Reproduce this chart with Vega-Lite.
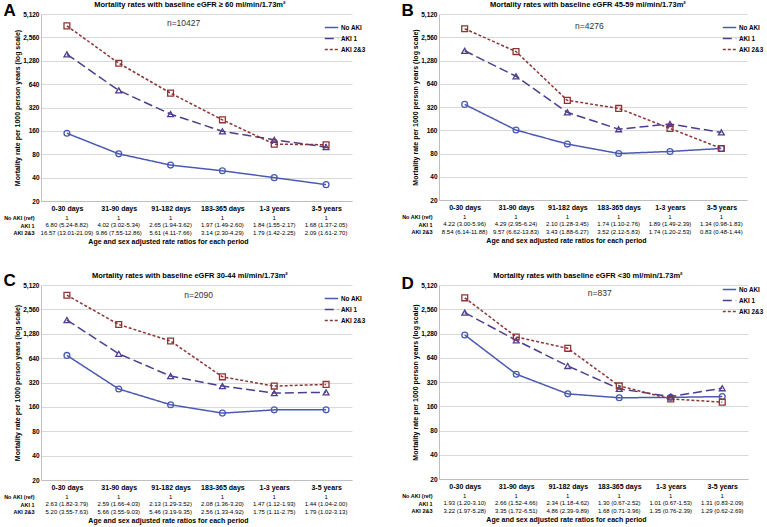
{
"$schema": "https://vega.github.io/schema/vega-lite/v6.json",
"padding": {"left": 3, "top": 0, "right": 2, "bottom": 1},
"config": {
  "font": "Liberation Sans",
  "view": {"stroke": null},
  "title": {"fontSize": 7.5, "fontWeight": "bold", "color": "#000", "offset": 3},
  "axis": {"labelFontWeight": "bold", "labelColor": "#000", "titleFontWeight": "bold", "titleColor": "#000", "ticks": false, "domainColor": "#bfbfbf", "gridColor": "#d9d9d9", "labelFontSize": 6.5, "titleFontSize": 7},
  "legend": {"orient": "none", "legendX": 283, "legendY": 6, "symbolType": "stroke", "symbolSize": 180, "symbolStrokeWidth": 1.5, "labelFontSize": 6.3, "labelFontWeight": "bold", "labelColor": "#000", "rowPadding": 0, "labelOffset": 2}
},
"datasets": {
  "rates": [
    {"p":"A","group":"No AKI","period":"0-30 days","rate":149},
    {"p":"A","group":"No AKI","period":"31-90 days","rate":81},
    {"p":"A","group":"No AKI","period":"91-182 days","rate":58},
    {"p":"A","group":"No AKI","period":"183-365 days","rate":49},
    {"p":"A","group":"No AKI","period":"1-3 years","rate":40},
    {"p":"A","group":"No AKI","period":"3-5 years","rate":32.5},
    {"p":"A","group":"AKI 1","period":"0-30 days","rate":1550},
    {"p":"A","group":"AKI 1","period":"31-90 days","rate":531},
    {"p":"A","group":"AKI 1","period":"91-182 days","rate":263},
    {"p":"A","group":"AKI 1","period":"183-365 days","rate":158},
    {"p":"A","group":"AKI 1","period":"1-3 years","rate":123},
    {"p":"A","group":"AKI 1","period":"3-5 years","rate":99},
    {"p":"A","group":"AKI 2&3","period":"0-30 days","rate":3600},
    {"p":"A","group":"AKI 2&3","period":"31-90 days","rate":1190},
    {"p":"A","group":"AKI 2&3","period":"91-182 days","rate":490},
    {"p":"A","group":"AKI 2&3","period":"183-365 days","rate":222},
    {"p":"A","group":"AKI 2&3","period":"1-3 years","rate":108},
    {"p":"A","group":"AKI 2&3","period":"3-5 years","rate":106},
    {"p":"B","group":"No AKI","period":"0-30 days","rate":346},
    {"p":"B","group":"No AKI","period":"31-90 days","rate":161},
    {"p":"B","group":"No AKI","period":"91-182 days","rate":106},
    {"p":"B","group":"No AKI","period":"183-365 days","rate":80},
    {"p":"B","group":"No AKI","period":"1-3 years","rate":85},
    {"p":"B","group":"No AKI","period":"3-5 years","rate":93},
    {"p":"B","group":"AKI 1","period":"0-30 days","rate":1710},
    {"p":"B","group":"AKI 1","period":"31-90 days","rate":800},
    {"p":"B","group":"AKI 1","period":"91-182 days","rate":273},
    {"p":"B","group":"AKI 1","period":"183-365 days","rate":165},
    {"p":"B","group":"AKI 1","period":"1-3 years","rate":193},
    {"p":"B","group":"AKI 1","period":"3-5 years","rate":150},
    {"p":"B","group":"AKI 2&3","period":"0-30 days","rate":3300},
    {"p":"B","group":"AKI 2&3","period":"31-90 days","rate":1670},
    {"p":"B","group":"AKI 2&3","period":"91-182 days","rate":390},
    {"p":"B","group":"AKI 2&3","period":"183-365 days","rate":307},
    {"p":"B","group":"AKI 2&3","period":"1-3 years","rate":169},
    {"p":"B","group":"AKI 2&3","period":"3-5 years","rate":93},
    {"p":"C","group":"No AKI","period":"0-30 days","rate":691},
    {"p":"C","group":"No AKI","period":"31-90 days","rate":266},
    {"p":"C","group":"No AKI","period":"91-182 days","rate":170},
    {"p":"C","group":"No AKI","period":"183-365 days","rate":134},
    {"p":"C","group":"No AKI","period":"1-3 years","rate":147},
    {"p":"C","group":"No AKI","period":"3-5 years","rate":147},
    {"p":"C","group":"AKI 1","period":"0-30 days","rate":1890},
    {"p":"C","group":"AKI 1","period":"31-90 days","rate":724},
    {"p":"C","group":"AKI 1","period":"91-182 days","rate":384},
    {"p":"C","group":"AKI 1","period":"183-365 days","rate":289},
    {"p":"C","group":"AKI 1","period":"1-3 years","rate":237},
    {"p":"C","group":"AKI 1","period":"3-5 years","rate":242},
    {"p":"C","group":"AKI 2&3","period":"0-30 days","rate":3830},
    {"p":"C","group":"AKI 2&3","period":"31-90 days","rate":1666},
    {"p":"C","group":"AKI 2&3","period":"91-182 days","rate":1040},
    {"p":"C","group":"AKI 2&3","period":"183-365 days","rate":376},
    {"p":"C","group":"AKI 2&3","period":"1-3 years","rate":289},
    {"p":"C","group":"AKI 2&3","period":"3-5 years","rate":303},
    {"p":"D","group":"No AKI","period":"0-30 days","rate":1227},
    {"p":"D","group":"No AKI","period":"31-90 days","rate":400},
    {"p":"D","group":"No AKI","period":"91-182 days","rate":228},
    {"p":"D","group":"No AKI","period":"183-365 days","rate":204},
    {"p":"D","group":"No AKI","period":"1-3 years","rate":206},
    {"p":"D","group":"No AKI","period":"3-5 years","rate":211},
    {"p":"D","group":"AKI 1","period":"0-30 days","rate":2320},
    {"p":"D","group":"AKI 1","period":"31-90 days","rate":1054},
    {"p":"D","group":"AKI 1","period":"91-182 days","rate":506},
    {"p":"D","group":"AKI 1","period":"183-365 days","rate":263},
    {"p":"D","group":"AKI 1","period":"1-3 years","rate":211},
    {"p":"D","group":"AKI 1","period":"3-5 years","rate":268},
    {"p":"D","group":"AKI 2&3","period":"0-30 days","rate":3550},
    {"p":"D","group":"AKI 2&3","period":"31-90 days","rate":1160},
    {"p":"D","group":"AKI 2&3","period":"91-182 days","rate":838},
    {"p":"D","group":"AKI 2&3","period":"183-365 days","rate":286},
    {"p":"D","group":"AKI 2&3","period":"1-3 years","rate":197},
    {"p":"D","group":"AKI 2&3","period":"3-5 years","rate":180}
  ],
  "ratios": [
    {"p":"A","row":"No AKI (ref)","period":"0-30 days","v":"1"},
    {"p":"A","row":"No AKI (ref)","period":"31-90 days","v":"1"},
    {"p":"A","row":"No AKI (ref)","period":"91-182 days","v":"1"},
    {"p":"A","row":"No AKI (ref)","period":"183-365 days","v":"1"},
    {"p":"A","row":"No AKI (ref)","period":"1-3 years","v":"1"},
    {"p":"A","row":"No AKI (ref)","period":"3-5 years","v":"1"},
    {"p":"A","row":"AKI 1","period":"0-30 days","v":"6.80 (5.24-8.82)"},
    {"p":"A","row":"AKI 1","period":"31-90 days","v":"4.02 (3.02-5.34)"},
    {"p":"A","row":"AKI 1","period":"91-182 days","v":"2.65 (1.94-3.62)"},
    {"p":"A","row":"AKI 1","period":"183-365 days","v":"1.97 (1.49-2.60)"},
    {"p":"A","row":"AKI 1","period":"1-3 years","v":"1.84 (1.55-2.17)"},
    {"p":"A","row":"AKI 1","period":"3-5 years","v":"1.68 (1.37-2.05)"},
    {"p":"A","row":"AKI 2&3","period":"0-30 days","v":"16.57 (13.01-21.09)"},
    {"p":"A","row":"AKI 2&3","period":"31-90 days","v":"9.86 (7.55-12.86)"},
    {"p":"A","row":"AKI 2&3","period":"91-182 days","v":"5.61 (4.11-7.66)"},
    {"p":"A","row":"AKI 2&3","period":"183-365 days","v":"3.14 (2.30-4.29)"},
    {"p":"A","row":"AKI 2&3","period":"1-3 years","v":"1.79 (1.42-2.25)"},
    {"p":"A","row":"AKI 2&3","period":"3-5 years","v":"2.09 (1.61-2.70)"},
    {"p":"B","row":"No AKI (ref)","period":"0-30 days","v":"1"},
    {"p":"B","row":"No AKI (ref)","period":"31-90 days","v":"1"},
    {"p":"B","row":"No AKI (ref)","period":"91-182 days","v":"1"},
    {"p":"B","row":"No AKI (ref)","period":"183-365 days","v":"1"},
    {"p":"B","row":"No AKI (ref)","period":"1-3 years","v":"1"},
    {"p":"B","row":"No AKI (ref)","period":"3-5 years","v":"1"},
    {"p":"B","row":"AKI 1","period":"0-30 days","v":"4.22 (3.00-5.96)"},
    {"p":"B","row":"AKI 1","period":"31-90 days","v":"4.29 (2.95-6.24)"},
    {"p":"B","row":"AKI 1","period":"91-182 days","v":"2.10 (1.28-3.45)"},
    {"p":"B","row":"AKI 1","period":"183-365 days","v":"1.74 (1.10-2.76)"},
    {"p":"B","row":"AKI 1","period":"1-3 years","v":"1.89 (1.49-2.39)"},
    {"p":"B","row":"AKI 1","period":"3-5 years","v":"1.34 (0.98-1.83)"},
    {"p":"B","row":"AKI 2&3","period":"0-30 days","v":"8.54 (6.14-11.88)"},
    {"p":"B","row":"AKI 2&3","period":"31-90 days","v":"9.57 (6.62-13.83)"},
    {"p":"B","row":"AKI 2&3","period":"91-182 days","v":"3.43 (1.88-6.27)"},
    {"p":"B","row":"AKI 2&3","period":"183-365 days","v":"3.52 (2.12-5.83)"},
    {"p":"B","row":"AKI 2&3","period":"1-3 years","v":"1.74 (1.20-2.53)"},
    {"p":"B","row":"AKI 2&3","period":"3-5 years","v":"0.83 (0.48-1.44)"},
    {"p":"C","row":"No AKI (ref)","period":"0-30 days","v":"1"},
    {"p":"C","row":"No AKI (ref)","period":"31-90 days","v":"1"},
    {"p":"C","row":"No AKI (ref)","period":"91-182 days","v":"1"},
    {"p":"C","row":"No AKI (ref)","period":"183-365 days","v":"1"},
    {"p":"C","row":"No AKI (ref)","period":"1-3 years","v":"1"},
    {"p":"C","row":"No AKI (ref)","period":"3-5 years","v":"1"},
    {"p":"C","row":"AKI 1","period":"0-30 days","v":"2.63 (1.82-3.79)"},
    {"p":"C","row":"AKI 1","period":"31-90 days","v":"2.59 (1.66-4.03)"},
    {"p":"C","row":"AKI 1","period":"91-182 days","v":"2.13 (1.29-3.52)"},
    {"p":"C","row":"AKI 1","period":"183-365 days","v":"2.08 (1.36-3.20)"},
    {"p":"C","row":"AKI 1","period":"1-3 years","v":"1.47 (1.12-1.93)"},
    {"p":"C","row":"AKI 1","period":"3-5 years","v":"1.44 (1.04-2.00)"},
    {"p":"C","row":"AKI 2&3","period":"0-30 days","v":"5.20 (3.55-7.63)"},
    {"p":"C","row":"AKI 2&3","period":"31-90 days","v":"5.66 (3.55-9.03)"},
    {"p":"C","row":"AKI 2&3","period":"91-182 days","v":"5.46 (3.19-9.35)"},
    {"p":"C","row":"AKI 2&3","period":"183-365 days","v":"2.56 (1.33-4.92)"},
    {"p":"C","row":"AKI 2&3","period":"1-3 years","v":"1.75 (1.11-2.75)"},
    {"p":"C","row":"AKI 2&3","period":"3-5 years","v":"1.79 (1.02-3.13)"},
    {"p":"D","row":"No AKI (ref)","period":"0-30 days","v":"1"},
    {"p":"D","row":"No AKI (ref)","period":"31-90 days","v":"1"},
    {"p":"D","row":"No AKI (ref)","period":"91-182 days","v":"1"},
    {"p":"D","row":"No AKI (ref)","period":"183-365 days","v":"1"},
    {"p":"D","row":"No AKI (ref)","period":"1-3 years","v":"1"},
    {"p":"D","row":"No AKI (ref)","period":"3-5 years","v":"1"},
    {"p":"D","row":"AKI 1","period":"0-30 days","v":"1.93 (1.20-3.10)"},
    {"p":"D","row":"AKI 1","period":"31-90 days","v":"2.66 (1.52-4.66)"},
    {"p":"D","row":"AKI 1","period":"91-182 days","v":"2.34 (1.18-4.62)"},
    {"p":"D","row":"AKI 1","period":"183-365 days","v":"1.30 (0.67-2.52)"},
    {"p":"D","row":"AKI 1","period":"1-3 years","v":"1.01 (0.67-1.53)"},
    {"p":"D","row":"AKI 1","period":"3-5 years","v":"1.31 (0.83-2.09)"},
    {"p":"D","row":"AKI 2&3","period":"0-30 days","v":"3.22 (1.97-5.28)"},
    {"p":"D","row":"AKI 2&3","period":"31-90 days","v":"3.35 (1.72-6.51)"},
    {"p":"D","row":"AKI 2&3","period":"91-182 days","v":"4.86 (2.39-9.89)"},
    {"p":"D","row":"AKI 2&3","period":"183-365 days","v":"1.68 (0.71-3.96)"},
    {"p":"D","row":"AKI 2&3","period":"1-3 years","v":"1.35 (0.76-2.39)"},
    {"p":"D","row":"AKI 2&3","period":"3-5 years","v":"1.29 (0.62-2.69)"}
  ],
  "ann": [
    {"p":"A","label":"n=10427"},
    {"p":"B","label":"n=4276"},
    {"p":"C","label":"n=2090"},
    {"p":"D","label":"n=837"}
  ]
},
"resolve": {"legend": {"color": "independent", "strokeDash": "independent"}},
"spacing": 26,
"vconcat": [
 {"resolve": {"legend": {"color": "independent", "strokeDash": "independent"}},
  "spacing": 35,
  "hconcat": [
  {"title": {"text": "A", "anchor": "start", "fontSize": 17, "fontWeight": "bold", "frame": "bounds", "offset": -19},
   "spacing": 3,
   "resolve": {"legend": {"color": "independent", "strokeDash": "independent"}},
   "vconcat": [
    {"title": {"text": "Mortality rates with baseline eGFR ≥ 60 ml/min/1.73m²", "frame": "bounds"},
     "width": 311, "height": 187,
     "layer": [
      {"data": {"name": "rates"}, "transform": [{"filter": "datum.p === 'A'"}],
       "mark": {"type": "line", "strokeWidth": 1.5},
       "encoding": {
        "x": {"field": "period", "type": "nominal", "sort": ["0-30 days","31-90 days","91-182 days","183-365 days","1-3 years","3-5 years"], "scale": {"type": "point", "padding": 0.5}, "axis": {"title": null, "labelAngle": 0, "labelFontSize": 7, "labelPadding": 3, "grid": false}},
        "y": {"field": "rate", "type": "quantitative", "scale": {"type": "log", "domain": [20, 5120], "nice": false}, "axis": {"title": "Mortality rate per 1000 person years (log scale)", "values": [20,40,80,160,320,640,1280,2560,5120], "format": ",", "labelPadding": 2, "titlePadding": 2}},
        "color": {"field": "group", "type": "nominal", "title": null, "scale": {"domain": ["No AKI","AKI 1","AKI 2&3"], "range": ["#4a5ab0","#4e3d8f","#8c3535"]}},
        "strokeDash": {"field": "group", "type": "nominal", "title": null, "scale": {"domain": ["No AKI","AKI 1","AKI 2&3"], "range": [[1,0],[9,4],[3,2]]}}
       }},
      {"data": {"name": "rates"}, "transform": [{"filter": "datum.p === 'A'"}],
       "mark": {"type": "point", "filled": false, "size": 34, "strokeWidth": 1.3, "opacity": 1},
       "encoding": {
        "x": {"field": "period", "type": "nominal", "sort": ["0-30 days","31-90 days","91-182 days","183-365 days","1-3 years","3-5 years"]},
        "y": {"field": "rate", "type": "quantitative"},
        "stroke": {"field": "group", "type": "nominal", "legend": null, "scale": {"range": ["#4e3d8f","#8c3535","#4a5ab0"]}},
        "shape": {"field": "group", "type": "nominal", "legend": null, "scale": {"range": ["triangle-up","square","circle"]}}
       }},
      {"data": {"name": "ann"}, "transform": [{"filter": "datum.p === 'A'"}],
       "mark": {"type": "text", "fontSize": 8.5, "color": "#333", "dx": 13},
       "encoding": {"x": {"datum": "91-182 days"}, "y": {"datum": 3900}, "text": {"field": "label"}}}
     ]},
    {"data": {"name": "ratios"}, "transform": [{"filter": "datum.p === 'A'"}],
     "width": 311, "height": 22.5,
     "mark": {"type": "text", "fontSize": 6, "color": "#000"},
     "encoding": {
      "x": {"field": "period", "type": "nominal", "sort": ["0-30 days","31-90 days","91-182 days","183-365 days","1-3 years","3-5 years"], "scale": {"type": "point", "padding": 0.5}, "axis": {"labels": false, "domain": false, "grid": false, "title": "Age and sex adjusted rate ratios for each period", "titlePadding": 1, "titleFontSize": 7, "titleX": 127}},
      "y": {"field": "row", "type": "nominal", "sort": ["No AKI (ref)","AKI 1","AKI 2&3"], "scale": {"type": "point", "padding": 0.5}, "axis": {"title": null, "domain": false, "grid": false, "labelPadding": 7, "labelFontSize": 5.5}},
      "text": {"field": "v"}
     }}
   ]},
  {"title": {"text": "B", "anchor": "start", "fontSize": 17, "fontWeight": "bold", "frame": "bounds", "offset": -19},
   "spacing": 3,
   "resolve": {"legend": {"color": "independent", "strokeDash": "independent"}},
   "vconcat": [
    {"title": {"text": "Mortality rates with baseline eGFR 45-59 ml/min/1.73m²", "frame": "bounds"},
     "width": 308, "height": 186,
     "layer": [
      {"data": {"name": "rates"}, "transform": [{"filter": "datum.p === 'B'"}],
       "mark": {"type": "line", "strokeWidth": 1.5},
       "encoding": {
        "x": {"field": "period", "type": "nominal", "sort": ["0-30 days","31-90 days","91-182 days","183-365 days","1-3 years","3-5 years"], "scale": {"type": "point", "padding": 0.5}, "axis": {"title": null, "labelAngle": 0, "labelFontSize": 7, "labelPadding": 3, "grid": false}},
        "y": {"field": "rate", "type": "quantitative", "scale": {"type": "log", "domain": [20, 5120], "nice": false}, "axis": {"title": "Mortality rate per 1000 person years (log scale)", "values": [20,40,80,160,320,640,1280,2560,5120], "format": ",", "labelPadding": 2, "titlePadding": 2}},
        "color": {"field": "group", "type": "nominal", "title": null, "scale": {"domain": ["No AKI","AKI 1","AKI 2&3"], "range": ["#4a5ab0","#4e3d8f","#8c3535"]}},
        "strokeDash": {"field": "group", "type": "nominal", "title": null, "scale": {"domain": ["No AKI","AKI 1","AKI 2&3"], "range": [[1,0],[9,4],[3,2]]}}
       }},
      {"data": {"name": "rates"}, "transform": [{"filter": "datum.p === 'B'"}],
       "mark": {"type": "point", "filled": false, "size": 34, "strokeWidth": 1.3, "opacity": 1},
       "encoding": {
        "x": {"field": "period", "type": "nominal", "sort": ["0-30 days","31-90 days","91-182 days","183-365 days","1-3 years","3-5 years"]},
        "y": {"field": "rate", "type": "quantitative"},
        "stroke": {"field": "group", "type": "nominal", "legend": null, "scale": {"range": ["#4e3d8f","#8c3535","#4a5ab0"]}},
        "shape": {"field": "group", "type": "nominal", "legend": null, "scale": {"range": ["triangle-up","square","circle"]}}
       }},
      {"data": {"name": "ann"}, "transform": [{"filter": "datum.p === 'B'"}],
       "mark": {"type": "text", "fontSize": 8.5, "color": "#333", "dx": 22},
       "encoding": {"x": {"datum": "91-182 days"}, "y": {"datum": 3620}, "text": {"field": "label"}}}
     ]},
    {"data": {"name": "ratios"}, "transform": [{"filter": "datum.p === 'B'"}],
     "width": 308, "height": 22.5,
     "mark": {"type": "text", "fontSize": 6, "color": "#000"},
     "encoding": {
      "x": {"field": "period", "type": "nominal", "sort": ["0-30 days","31-90 days","91-182 days","183-365 days","1-3 years","3-5 years"], "scale": {"type": "point", "padding": 0.5}, "axis": {"labels": false, "domain": false, "grid": false, "title": "Age and sex adjusted rate ratios for each period", "titlePadding": 1, "titleFontSize": 7, "titleX": 127}},
      "y": {"field": "row", "type": "nominal", "sort": ["No AKI (ref)","AKI 1","AKI 2&3"], "scale": {"type": "point", "padding": 0.5}, "axis": {"title": null, "domain": false, "grid": false, "labelPadding": 7, "labelFontSize": 5.5}},
      "text": {"field": "v"}
     }}
   ]}
 ]},
 {"resolve": {"legend": {"color": "independent", "strokeDash": "independent"}},
  "spacing": 35,
  "hconcat": [
  {"title": {"text": "C", "anchor": "start", "fontSize": 17, "fontWeight": "bold", "frame": "bounds", "offset": -18},
   "spacing": 3,
   "resolve": {"legend": {"color": "independent", "strokeDash": "independent"}},
   "vconcat": [
    {"title": {"text": "Mortality rates with baseline eGFR 30-44 ml/min/1.73m²", "frame": "bounds"},
     "width": 311, "height": 195,
     "layer": [
      {"data": {"name": "rates"}, "transform": [{"filter": "datum.p === 'C'"}],
       "mark": {"type": "line", "strokeWidth": 1.5},
       "encoding": {
        "x": {"field": "period", "type": "nominal", "sort": ["0-30 days","31-90 days","91-182 days","183-365 days","1-3 years","3-5 years"], "scale": {"type": "point", "padding": 0.5}, "axis": {"title": null, "labelAngle": 0, "labelFontSize": 7, "labelPadding": 3, "grid": false}},
        "y": {"field": "rate", "type": "quantitative", "scale": {"type": "log", "domain": [20, 5120], "nice": false}, "axis": {"title": "Mortality rate per 1000 person years (log scale)", "values": [20,40,80,160,320,640,1280,2560,5120], "format": ",", "labelPadding": 2, "titlePadding": 2}},
        "color": {"field": "group", "type": "nominal", "title": null, "scale": {"domain": ["No AKI","AKI 1","AKI 2&3"], "range": ["#4a5ab0","#4e3d8f","#8c3535"]}},
        "strokeDash": {"field": "group", "type": "nominal", "title": null, "scale": {"domain": ["No AKI","AKI 1","AKI 2&3"], "range": [[1,0],[9,4],[3,2]]}}
       }},
      {"data": {"name": "rates"}, "transform": [{"filter": "datum.p === 'C'"}],
       "mark": {"type": "point", "filled": false, "size": 34, "strokeWidth": 1.3, "opacity": 1},
       "encoding": {
        "x": {"field": "period", "type": "nominal", "sort": ["0-30 days","31-90 days","91-182 days","183-365 days","1-3 years","3-5 years"]},
        "y": {"field": "rate", "type": "quantitative"},
        "stroke": {"field": "group", "type": "nominal", "legend": null, "scale": {"range": ["#4e3d8f","#8c3535","#4a5ab0"]}},
        "shape": {"field": "group", "type": "nominal", "legend": null, "scale": {"range": ["triangle-up","square","circle"]}}
       }},
      {"data": {"name": "ann"}, "transform": [{"filter": "datum.p === 'C'"}],
       "mark": {"type": "text", "fontSize": 8.5, "color": "#333", "dx": 28},
       "encoding": {"x": {"datum": "91-182 days"}, "y": {"datum": 3900}, "text": {"field": "label"}}}
     ]},
    {"data": {"name": "ratios"}, "transform": [{"filter": "datum.p === 'C'"}],
     "width": 311, "height": 22.5,
     "mark": {"type": "text", "fontSize": 6, "color": "#000"},
     "encoding": {
      "x": {"field": "period", "type": "nominal", "sort": ["0-30 days","31-90 days","91-182 days","183-365 days","1-3 years","3-5 years"], "scale": {"type": "point", "padding": 0.5}, "axis": {"labels": false, "domain": false, "grid": false, "title": "Age and sex adjusted rate ratios for each period", "titlePadding": 1, "titleFontSize": 7, "titleX": 127}},
      "y": {"field": "row", "type": "nominal", "sort": ["No AKI (ref)","AKI 1","AKI 2&3"], "scale": {"type": "point", "padding": 0.5}, "axis": {"title": null, "domain": false, "grid": false, "labelPadding": 7, "labelFontSize": 5.5}},
      "text": {"field": "v"}
     }}
   ]},
  {"title": {"text": "D", "anchor": "start", "fontSize": 17, "fontWeight": "bold", "frame": "bounds", "offset": -21},
   "spacing": 3,
   "resolve": {"legend": {"color": "independent", "strokeDash": "independent"}},
   "vconcat": [
    {"title": {"text": "Mortality rates with baseline eGFR <30 ml/min/1.73m²", "frame": "bounds"},
     "width": 309, "height": 194,
     "layer": [
      {"data": {"name": "rates"}, "transform": [{"filter": "datum.p === 'D'"}],
       "mark": {"type": "line", "strokeWidth": 1.5},
       "encoding": {
        "x": {"field": "period", "type": "nominal", "sort": ["0-30 days","31-90 days","91-182 days","183-365 days","1-3 years","3-5 years"], "scale": {"type": "point", "padding": 0.5}, "axis": {"title": null, "labelAngle": 0, "labelFontSize": 7, "labelPadding": 3, "grid": false}},
        "y": {"field": "rate", "type": "quantitative", "scale": {"type": "log", "domain": [20, 5120], "nice": false}, "axis": {"title": "Mortality rate per 1000 person years (log scale)", "values": [20,40,80,160,320,640,1280,2560,5120], "format": ",", "labelPadding": 2, "titlePadding": 2}},
        "color": {"field": "group", "type": "nominal", "title": null, "legend": {"legendY": -3}, "scale": {"domain": ["No AKI","AKI 1","AKI 2&3"], "range": ["#4a5ab0","#4e3d8f","#8c3535"]}},
        "strokeDash": {"field": "group", "type": "nominal", "title": null, "legend": {"legendY": -3}, "scale": {"domain": ["No AKI","AKI 1","AKI 2&3"], "range": [[1,0],[9,4],[3,2]]}}
       }},
      {"data": {"name": "rates"}, "transform": [{"filter": "datum.p === 'D'"}],
       "mark": {"type": "point", "filled": false, "size": 34, "strokeWidth": 1.3, "opacity": 1},
       "encoding": {
        "x": {"field": "period", "type": "nominal", "sort": ["0-30 days","31-90 days","91-182 days","183-365 days","1-3 years","3-5 years"]},
        "y": {"field": "rate", "type": "quantitative"},
        "stroke": {"field": "group", "type": "nominal", "legend": null, "scale": {"range": ["#4e3d8f","#8c3535","#4a5ab0"]}},
        "shape": {"field": "group", "type": "nominal", "legend": null, "scale": {"range": ["triangle-up","square","circle"]}}
       }},
      {"data": {"name": "ann"}, "transform": [{"filter": "datum.p === 'D'"}],
       "mark": {"type": "text", "fontSize": 8.5, "color": "#333", "dx": 32},
       "encoding": {"x": {"datum": "91-182 days"}, "y": {"datum": 4100}, "text": {"field": "label"}}}
     ]},
    {"data": {"name": "ratios"}, "transform": [{"filter": "datum.p === 'D'"}],
     "width": 309, "height": 22.5,
     "mark": {"type": "text", "fontSize": 6, "color": "#000"},
     "encoding": {
      "x": {"field": "period", "type": "nominal", "sort": ["0-30 days","31-90 days","91-182 days","183-365 days","1-3 years","3-5 years"], "scale": {"type": "point", "padding": 0.5}, "axis": {"labels": false, "domain": false, "grid": false, "title": "Age and sex adjusted rate ratios for each period", "titlePadding": 1, "titleFontSize": 7, "titleX": 127}},
      "y": {"field": "row", "type": "nominal", "sort": ["No AKI (ref)","AKI 1","AKI 2&3"], "scale": {"type": "point", "padding": 0.5}, "axis": {"title": null, "domain": false, "grid": false, "labelPadding": 7, "labelFontSize": 5.5}},
      "text": {"field": "v"}
     }}
   ]}
 ]}
]
}
